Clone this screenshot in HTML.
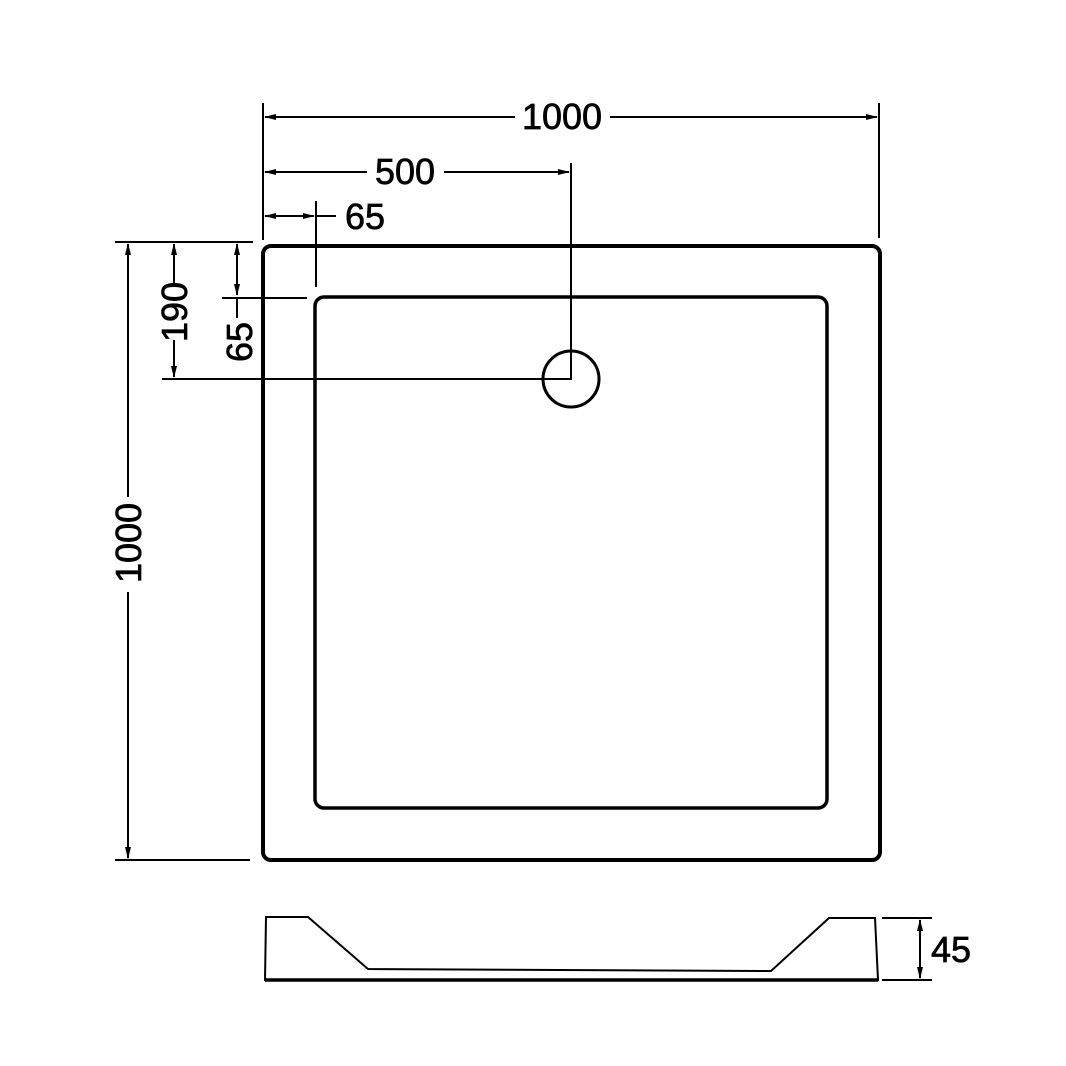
<!DOCTYPE html>
<html><head><meta charset="utf-8"><style>html,body{margin:0;padding:0;background:#fff}svg{display:block}</style></head>
<body>
<svg width="1066" height="1066" viewBox="0 0 1066 1066" xmlns="http://www.w3.org/2000/svg" font-family="Liberation Sans, sans-serif">
<defs>
<marker id="a" markerWidth="12" markerHeight="6" refX="11" refY="3" orient="auto" markerUnits="userSpaceOnUse"><path d="M0,0 L12,3 L0,6 z" fill="#000"/></marker>
<marker id="b" markerWidth="12" markerHeight="6" refX="1" refY="3" orient="auto" markerUnits="userSpaceOnUse"><path d="M12,0 L0,3 L12,6 z" fill="#000"/></marker>
</defs>
<g stroke="#000" fill="none">
<rect x="263" y="246" width="617" height="614" rx="8" stroke-width="4"/>
<rect x="315" y="297" width="512" height="511" rx="9" stroke-width="3.5"/>
<circle cx="571" cy="379" r="28" stroke-width="3"/>
<g stroke-width="2">
<line x1="263" y1="103" x2="263" y2="240"/>
<line x1="879" y1="103" x2="879" y2="238"/>
<line x1="265" y1="117" x2="515" y2="117" marker-start="url(#b)"/>
<line x1="610" y1="117" x2="877" y2="117" marker-end="url(#a)"/>
<line x1="265" y1="172" x2="367" y2="172" marker-start="url(#b)"/>
<line x1="444" y1="172" x2="569" y2="172" marker-end="url(#a)"/>
<line x1="571" y1="163" x2="571" y2="380"/>
<line x1="265" y1="216" x2="314" y2="216" marker-start="url(#b)" marker-end="url(#a)"/>
<line x1="316" y1="201" x2="316" y2="287"/>
<line x1="316" y1="216" x2="336" y2="216"/>
<line x1="115" y1="242" x2="253" y2="242"/>
<line x1="115" y1="860" x2="250" y2="860"/>
<line x1="128" y1="244" x2="128" y2="497" marker-start="url(#b)"/>
<line x1="128" y1="592" x2="128" y2="858" marker-end="url(#a)"/>
<line x1="174" y1="244" x2="174" y2="283" marker-start="url(#b)"/>
<line x1="174" y1="340" x2="174" y2="377" marker-end="url(#a)"/>
<line x1="162" y1="379" x2="571" y2="379"/>
<line x1="237" y1="244" x2="237" y2="295" marker-start="url(#b)" marker-end="url(#a)"/>
<line x1="237" y1="297" x2="237" y2="318"/>
<line x1="222" y1="298" x2="307" y2="298"/>
</g>
<path d="M266,917 L308,917 L368,969 L771,971 L829,918 L875,918 L878,980 L265,980 Z" stroke-width="2"/>
<line x1="265" y1="980" x2="878" y2="980" stroke-width="3.5"/>
<g stroke-width="2">
<line x1="882" y1="918" x2="932" y2="918"/>
<line x1="882" y1="980" x2="932" y2="980"/>
<line x1="920" y1="920" x2="920" y2="978" marker-start="url(#b)" marker-end="url(#a)"/>
</g>
</g>
<g fill="#000" stroke="#000" stroke-width="0.7" font-size="36">
<text x="562" y="129" text-anchor="middle">1000</text>
<text x="405" y="184" text-anchor="middle">500</text>
<text x="365" y="229" text-anchor="middle">65</text>
<text transform="translate(141,543) rotate(-90)" text-anchor="middle">1000</text>
<text transform="translate(187,312) rotate(-90)" text-anchor="middle">190</text>
<text transform="translate(252,342) rotate(-90)" text-anchor="middle">65</text>
<text x="951" y="962" text-anchor="middle" font-size="36">45</text>
</g>
</svg>
</body></html>
